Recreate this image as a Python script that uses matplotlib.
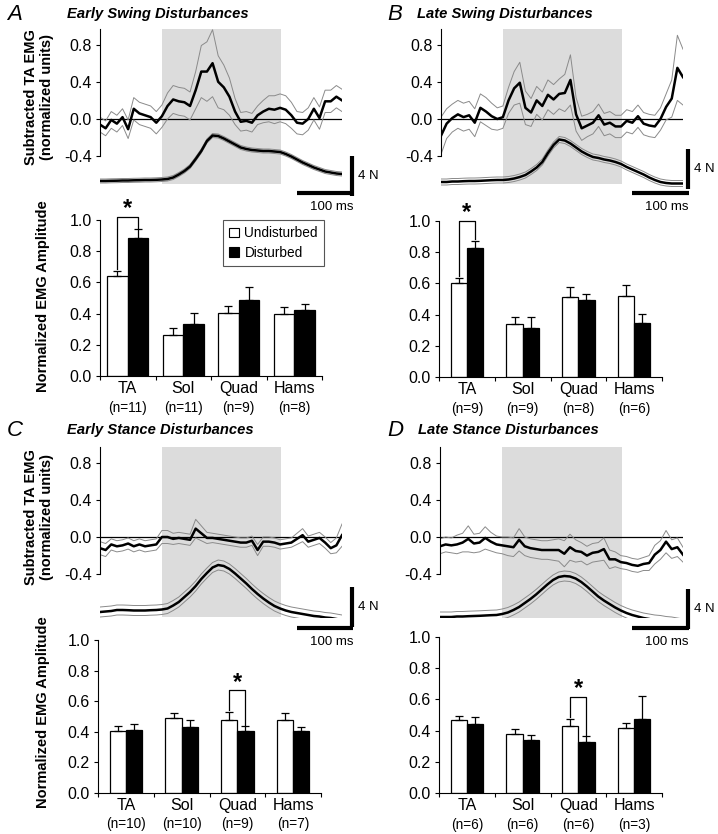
import numpy as np
import matplotlib
matplotlib.use("Agg")
import matplotlib.pyplot as plt
from matplotlib.patches import Rectangle, Patch

plt.rcParams['font.family'] = ['Liberation Sans', 'DejaVu Sans']

W, H = 718, 834

# time base of the averaged traces (ms), disturbance window shaded
time_ms = np.arange(0, 440, 10)
disturb_window = (110, 322)

# subtracted TA EMG, mean and SE half width (normalized units)
emg_a = [-0.06, -0.10, -0.01, -0.05, 0.02, -0.11, 0.11, 0.06, 0.04, 0.02,
         -0.04, 0.03, 0.14, 0.21, 0.19, 0.18, 0.14, 0.31, 0.51, 0.51,
         0.60, 0.40, 0.34, 0.24, 0.08, -0.03, -0.02, -0.04, 0.04, 0.08,
         0.11, 0.10, 0.12, 0.10, 0.04, -0.04, -0.05, 0.00, 0.11, 0.01,
         0.19, 0.19, 0.24, 0.20]
emg_a_se = [0.08, 0.08, 0.09, 0.09, 0.09, 0.10, 0.12, 0.12, 0.12, 0.12,
            0.12, 0.12, 0.14, 0.15, 0.15, 0.15, 0.15, 0.20, 0.28, 0.32,
            0.36, 0.28, 0.24, 0.20, 0.14, 0.10, 0.10, 0.10, 0.10, 0.12,
            0.14, 0.15, 0.15, 0.15, 0.14, 0.12, 0.12, 0.12, 0.12, 0.12,
            0.12, 0.12, 0.12, 0.12]
emg_b = [-0.18, -0.05, 0.01, 0.05, 0.02, 0.04, -0.04, 0.12, 0.08, 0.03,
         0.00, 0.02, 0.20, 0.33, 0.39, 0.12, 0.07, 0.20, 0.14, 0.26,
         0.21, 0.27, 0.28, 0.42, 0.05, -0.10, -0.07, -0.04, 0.04, -0.06,
         -0.04, -0.08, -0.08, -0.02, -0.04, 0.03, -0.05, -0.07, -0.08, 0.00,
         0.13, 0.22, 0.55, 0.45]
emg_b_se = [0.20, 0.16, 0.15, 0.15, 0.15, 0.15, 0.15, 0.15, 0.15, 0.14,
            0.12, 0.12, 0.14, 0.18, 0.22, 0.18, 0.15, 0.15, 0.15, 0.16,
            0.16, 0.16, 0.20, 0.27, 0.18, 0.13, 0.12, 0.12, 0.12, 0.12,
            0.12, 0.12, 0.12, 0.12, 0.12, 0.12, 0.12, 0.12, 0.12, 0.12,
            0.14, 0.20, 0.35, 0.30]
emg_c = [-0.12, -0.14, -0.08, -0.10, -0.09, -0.07, -0.10, -0.08, -0.10, -0.09,
         -0.08, 0.00, 0.00, -0.02, -0.01, -0.02, -0.03, 0.09, 0.04, -0.01,
         -0.01, -0.02, -0.03, -0.04, -0.05, -0.06, -0.06, -0.04, -0.14, -0.05,
         -0.05, -0.06, -0.08, -0.07, -0.06, -0.02, 0.02, -0.05, -0.03, -0.01,
         -0.06, -0.12, -0.09, 0.02]
emg_c_se = [0.07, 0.07, 0.06, 0.06, 0.06, 0.06, 0.06, 0.06, 0.06, 0.06,
            0.06, 0.07, 0.07, 0.06, 0.06, 0.06, 0.06, 0.10, 0.08, 0.06,
            0.05, 0.05, 0.05, 0.05, 0.05, 0.05, 0.05, 0.05, 0.06, 0.05,
            0.05, 0.05, 0.05, 0.05, 0.05, 0.06, 0.07, 0.06, 0.06, 0.06,
            0.06, 0.06, 0.08, 0.12]
emg_d = [-0.10, -0.08, -0.09, -0.08, -0.06, -0.02, -0.07, -0.06, -0.01, -0.05,
         -0.08, -0.09, -0.10, -0.11, -0.03, -0.10, -0.12, -0.13, -0.14, -0.14,
         -0.14, -0.14, -0.18, -0.11, -0.15, -0.16, -0.20, -0.17, -0.16, -0.13,
         -0.24, -0.24, -0.27, -0.28, -0.30, -0.31, -0.29, -0.28, -0.19, -0.14,
         -0.05, -0.13, -0.11, -0.19]
emg_d_se = [0.08, 0.08, 0.08, 0.10, 0.10, 0.14, 0.10, 0.10, 0.12, 0.10,
            0.09, 0.09, 0.10, 0.10, 0.12, 0.10, 0.10, 0.10, 0.10, 0.10,
            0.11, 0.12, 0.14, 0.14, 0.12, 0.10, 0.10, 0.10, 0.10, 0.12,
            0.10, 0.08, 0.07, 0.07, 0.07, 0.07, 0.07, 0.08, 0.10, 0.10,
            0.12, 0.10, 0.10, 0.08]

# applied force traces (N, relative), and their SE
force_a = [0.10, 0.10, 0.12, 0.13, 0.15, 0.15, 0.17, 0.18, 0.20, 0.20,
           0.22, 0.25, 0.30, 0.45, 0.75, 1.10, 1.55, 2.30, 3.10, 4.10,
           4.65, 4.60, 4.35, 4.05, 3.75, 3.45, 3.30, 3.20, 3.15, 3.10,
           3.10, 3.05, 3.00, 2.80, 2.55, 2.25, 1.95, 1.70, 1.45, 1.25,
           1.05, 0.95, 0.85, 0.80]
force_b = [0.00, 0.00, 0.05, 0.05, 0.08, 0.10, 0.10, 0.12, 0.15, 0.18,
           0.20, 0.20, 0.25, 0.35, 0.50, 0.70, 1.05, 1.45, 2.00, 2.90,
           3.70, 4.25, 4.15, 3.85, 3.45, 3.05, 2.75, 2.50, 2.40, 2.25,
           2.15, 2.00, 1.80, 1.50, 1.25, 1.00, 0.75, 0.45, 0.20, 0.00,
           -0.10, -0.15, -0.15, -0.15]
force_c = [0.00, 0.05, 0.10, 0.20, 0.20, 0.18, 0.15, 0.15, 0.15, 0.18,
           0.20, 0.25, 0.35, 0.65, 1.00, 1.50, 2.00, 2.60, 3.30, 3.90,
           4.45, 4.70, 4.60, 4.30, 3.85, 3.35, 2.85, 2.30, 1.80, 1.35,
           0.95, 0.60, 0.35, 0.15, 0.00, -0.10, -0.20, -0.30, -0.40, -0.45,
           -0.55, -0.60, -0.70, -0.80]
force_d = [0.00, 0.00, 0.00, 0.05, 0.05, 0.08, 0.10, 0.12, 0.15, 0.18,
           0.20, 0.30, 0.45, 0.70, 1.00, 1.40, 1.80, 2.25, 2.75, 3.25,
           3.70, 4.00, 4.10, 4.05, 3.85, 3.50, 3.05, 2.55, 2.05, 1.65,
           1.30, 0.95, 0.65, 0.40, 0.20, 0.05, -0.10, -0.20, -0.30, -0.35,
           -0.45, -0.50, -0.60, -0.70]
force_se = [0.2, 0.3, 0.5, 0.5]

# bar charts: normalized EMG amplitude
muscles = ['TA', 'Sol', 'Quad', 'Hams']
n_a = ['(n=11)', '(n=11)', '(n=9)', '(n=8)']
n_b = ['(n=9)', '(n=9)', '(n=8)', '(n=6)']
n_c = ['(n=10)', '(n=10)', '(n=9)', '(n=7)']
n_d = ['(n=6)', '(n=6)', '(n=6)', '(n=3)']

undist_a = [0.64, 0.265, 0.405, 0.40]
undist_a_err = [0.035, 0.04, 0.045, 0.045]
dist_a = [0.885, 0.335, 0.49, 0.425]
dist_a_err = [0.055, 0.07, 0.08, 0.035]

undist_b = [0.60, 0.34, 0.515, 0.52]
undist_b_err = [0.035, 0.045, 0.065, 0.07]
dist_b = [0.825, 0.315, 0.495, 0.345]
dist_b_err = [0.05, 0.07, 0.04, 0.06]

undist_c = [0.405, 0.49, 0.48, 0.475]
undist_c_err = [0.03, 0.03, 0.05, 0.045]
dist_c = [0.41, 0.43, 0.405, 0.405]
dist_c_err = [0.04, 0.05, 0.03, 0.025]

undist_d = [0.465, 0.38, 0.43, 0.415]
undist_d_err = [0.03, 0.03, 0.045, 0.035]
dist_d = [0.44, 0.34, 0.325, 0.475]
dist_d_err = [0.05, 0.03, 0.04, 0.15]

signif = [0, 0, 2, 2]  # muscle index with the significant difference

letters = ['A', 'B', 'C', 'D']
titles = ['Early Swing Disturbances', 'Late Swing Disturbances',
          'Early Stance Disturbances', 'Late Stance Disturbances']

EMG_TOP, EMG_BOT = 0.97, -0.87
PX_PER_UNIT = 93.0
PX_PER_N = 10.0

fig = plt.figure(figsize=(W / 100, H / 100), dpi=100)


def rect(x0, x1, ytop, ybot):
    return [x0 / W, 1 - ybot / H, (x1 - x0) / W, (ybot - ytop) / H]


def trace_panel(p, emg, emg_se, force, fse):
    top = p['y0'] - EMG_TOP * PX_PER_UNIT
    bot = p['y0'] - EMG_BOT * PX_PER_UNIT
    ax = fig.add_axes(rect(p['x0'], p['x1'], top, bot))
    ax.patch.set_alpha(0)
    ax.set_xlim(0, 430)
    ax.set_ylim(EMG_BOT, EMG_TOP)
    ax.add_patch(Rectangle((disturb_window[0], p['box_lo']),
                           disturb_window[1] - disturb_window[0],
                           EMG_TOP - p['box_lo'], fc='#dcdcdc', ec='none', zorder=0))
    ax.axhline(0, color='k', lw=0.9, zorder=1)
    emg = np.array(emg)
    emg_se = np.array(emg_se)
    ax.plot(time_ms, emg + emg_se, color='#8a8a8a', lw=0.7, zorder=2)
    ax.plot(time_ms, emg - emg_se, color='#8a8a8a', lw=0.7, zorder=2)
    ax.plot(time_ms, emg, color='k', lw=1.8, zorder=3)
    for s in ['top', 'right', 'bottom']:
        ax.spines[s].set_visible(False)
    ax.spines['left'].set_bounds(-0.4, EMG_TOP)
    ax.set_xticks([])
    ax.set_yticks([-0.4, 0.0, 0.4, 0.8])
    ax.set_yticklabels(['-0.4', '0.0', '0.4', '0.8'])
    ax.tick_params(axis='y', length=3, width=0.8, pad=3, labelsize=11.5)

    fax = fig.add_axes(rect(p['x0'], p['x1'], top, bot))
    fax.axis('off')
    flo = -(bot - p['fbase']) / PX_PER_N
    fax.set_xlim(0, 430)
    fax.set_ylim(flo, flo + (bot - top) / PX_PER_N)
    force = np.array(force)
    fax.plot(time_ms, force + fse, color='#8a8a8a', lw=0.7)
    fax.plot(time_ms, force - fse, color='#8a8a8a', lw=0.7)
    fax.plot(time_ms, force, color='k', lw=1.8)
    # scale bars: 4 N and 100 ms
    fax.plot([p['vbar_t'], p['vbar_t']], [p['vbar_f'], p['vbar_f'] + 4],
             color='k', lw=3, solid_capstyle='butt', clip_on=False)
    fax.plot([p['hbar_t'], p['hbar_t'] + 100], [p['hbar_f'], p['hbar_f']],
             color='k', lw=3, solid_capstyle='butt', clip_on=False)
    fax.text(p['vbar_t'] + 11, p['vbar_f'] + 2, '4 N', ha='left', va='center',
             fontsize=9.5)
    fax.text(p['hbar_t'] + 62, p['hbar_f'] - 1.4, '100 ms', ha='center',
             va='center', fontsize=9.5)


def bar_panel(p, und, und_err, dis, dis_err, nlab, sig, legend=False):
    ax = fig.add_axes(rect(p['x0'], p['x1'], p['ytop'], p['ybot']))
    ax.patch.set_alpha(0)
    x = np.arange(len(muscles))
    w = p['w']
    ax.bar(x - w / 2, und, w, color='white', edgecolor='k', lw=0.9,
           yerr=[np.zeros(4), und_err], capsize=3.2,
           error_kw=dict(lw=0.9, capthick=0.9), label='Undisturbed', zorder=2)
    ax.bar(x + w / 2, dis, w, color='k', edgecolor='k', lw=0.9,
           yerr=[np.zeros(4), dis_err], capsize=3.2,
           error_kw=dict(lw=0.9, capthick=0.9), label='Disturbed', zorder=2)
    ax.set_xlim(-0.5, 3.5)
    ax.set_ylim(0, 1.0)
    ax.set_yticks(np.arange(0, 1.01, 0.2))
    ax.set_yticklabels(['%.1f' % v for v in np.arange(0, 1.01, 0.2)])
    ax.set_xticks(np.arange(-0.5, 3.6, 1.0))
    ax.set_xticklabels([])
    ax.tick_params(length=3, width=0.8, pad=3, labelsize=11.5)
    for s in ['top', 'right']:
        ax.spines[s].set_visible(False)
    for i in range(4):
        ax.text(x[i], -0.03, muscles[i], ha='center', va='top', fontsize=11.5,
                clip_on=False)
        ax.text(x[i], -0.16, nlab[i], ha='center', va='top', fontsize=9.8,
                clip_on=False)
    # significance bracket
    yb = p['br']
    xl, xr = x[sig] - w / 2, x[sig] + w / 2
    ax.plot([xl, xl, xr, xr],
            [und[sig] + und_err[sig] + 0.01, yb, yb, dis[sig] + dis_err[sig] + 0.01],
            color='k', lw=0.9, clip_on=False)
    ax.text(x[sig], yb - 0.02, '*', ha='center', va='bottom', fontsize=17,
            fontweight='bold', clip_on=False)
    if legend:
        handles = [Patch(fc='white', ec='k', lw=0.8, label='Undisturbed'),
                   Patch(fc='k', ec='k', lw=0.8, label='Disturbed')]
        lg = fig.legend(handles=handles, loc='upper right',
                        bbox_to_anchor=(324 / W, 1 - 220 / H), fontsize=9.8,
                        handlelength=0.7, handleheight=0.7, handletextpad=0.4,
                        borderpad=0.45, labelspacing=0.4, borderaxespad=0,
                        fancybox=False, framealpha=1)
        lg.get_frame().set_edgecolor('#555555')
        lg.get_frame().set_linewidth(0.8)


trace_layout = [
    dict(x0=100, x1=342, y0=119, fbase=182, box_lo=-0.70,
         vbar_t=448, vbar_f=-1.4, hbar_t=350, hbar_f=-1.1),
    dict(x0=441, x1=683, y0=119, fbase=182, box_lo=-0.70,
         vbar_t=439, vbar_f=-0.7, hbar_t=340, hbar_f=-1.1),
    dict(x0=100, x1=342, y0=537, fbase=612, box_lo=-0.86,
         vbar_t=448, vbar_f=-1.45, hbar_t=350, hbar_f=-1.6),
    dict(x0=440, x1=683, y0=537, fbase=617, box_lo=-0.87,
         vbar_t=439, vbar_f=-1.2, hbar_t=340, hbar_f=-1.1),
]
bar_layout = [
    dict(x0=100, x1=322, ytop=220, ybot=376, w=0.37, br=1.02),
    dict(x0=439, x1=662, ytop=221, ybot=377, w=0.29, br=1.0),
    dict(x0=98, x1=321, ytop=640, ybot=793, w=0.29, br=0.67),
    dict(x0=439, x1=662, ytop=637, ybot=793, w=0.29, br=0.615),
]

emgs = [(emg_a, emg_a_se), (emg_b, emg_b_se), (emg_c, emg_c_se), (emg_d, emg_d_se)]
forces = [force_a, force_b, force_c, force_d]
bars = [(undist_a, undist_a_err, dist_a, dist_a_err, n_a),
        (undist_b, undist_b_err, dist_b, dist_b_err, n_b),
        (undist_c, undist_c_err, dist_c, dist_c_err, n_c),
        (undist_d, undist_d_err, dist_d, dist_d_err, n_d)]

for k in range(4):
    trace_panel(trace_layout[k], emgs[k][0], emgs[k][1], forces[k], force_se[k])
    u, ue, d, de, nl = bars[k]
    bar_panel(bar_layout[k], u, ue, d, de, nl, signif[k], legend=(k == 0))

# panel letters and titles
letter_pos = [(7, 14), (387, 14), (7, 430), (387, 430)]
title_pos = [(67, 14), (417, 14), (67, 430), (418, 430)]
for k in range(4):
    fig.text(letter_pos[k][0] / W, 1 - letter_pos[k][1] / H, letters[k],
             fontsize=16, fontstyle='italic', ha='left', va='center')
    fig.text(title_pos[k][0] / W, 1 - title_pos[k][1] / H, titles[k],
             fontsize=10.6, fontstyle='italic', fontweight='bold',
             ha='left', va='center')

# axis labels (left column only)
for yc in [97, 517]:
    fig.text(39 / W, 1 - yc / H, 'Subtracted TA EMG\n(normalized units)',
             rotation=90, ha='center', va='center', fontsize=10.5,
             fontweight='bold', linespacing=1.1)
for yc in [296, 712]:
    fig.text(43 / W, 1 - yc / H, 'Normalized EMG Amplitude', rotation=90,
             ha='center', va='center', fontsize=10.5, fontweight='bold')

fig.savefig('out.png', dpi=100)
